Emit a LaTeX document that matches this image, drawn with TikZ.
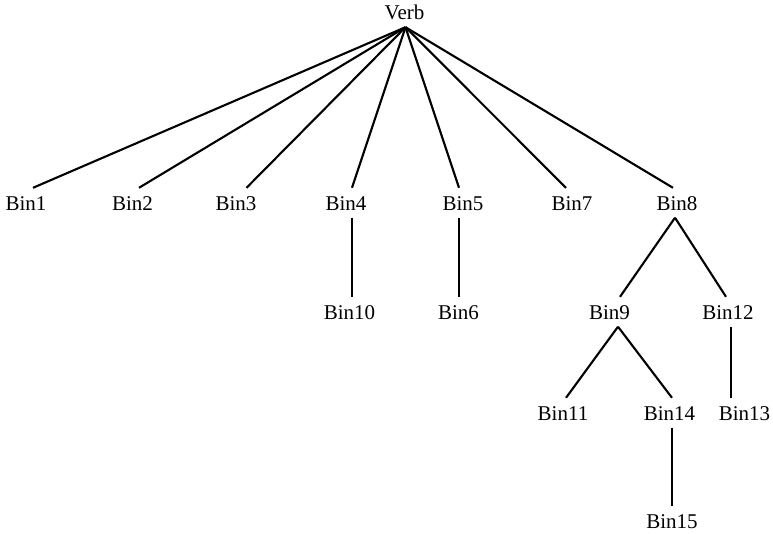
\documentclass[tikz,border=0pt]{standalone}
\usepackage{fontspec}
\setmainfont{Liberation Serif}
\begin{document}
\begin{tikzpicture}[x=1pt,y=-1pt,
  lbl/.style={anchor=base,inner xsep=0pt,inner ysep=7.5pt,text height=14.5pt,text depth=0pt,
              font=\fontsize{21}{25}\selectfont},
  edge/.style={line width=2.1pt,line cap=butt}]
\useasboundingbox (0,0) rectangle (773,533);

% labels, placed by text centre and baseline
\node[lbl] (verb) at (404.5,19.5) {Verb};
\node[lbl] (b1)  at (26,210)  {Bin1};
\node[lbl] (b2)  at (132.5,210) {Bin2};
\node[lbl] (b3)  at (236,210) {Bin3};
\node[lbl] (b4)  at (346,210) {Bin4};
\node[lbl] (b5)  at (463,210) {Bin5};
\node[lbl] (b7)  at (572,210) {Bin7};
\node[lbl] (b8)  at (677,210) {Bin8};
\node[lbl] (b10) at (349.5,319) {Bin10};
\node[lbl] (b6)  at (458.5,319) {Bin6};
\node[lbl] (b9)  at (609.5,319) {Bin9};
\node[lbl] (b12) at (728,319) {Bin12};
\node[lbl] (b11) at (563,420) {Bin11};
\node[lbl] (b14) at (669.5,420) {Bin14};
\node[lbl] (b13) at (744.5,420) {Bin13};
\node[lbl] (b15) at (672,528) {Bin15};

% branches from the root
\draw[edge] ([xshift=1pt]verb.south) -- ([xshift=7pt]b1.north);
\draw[edge] ([xshift=1pt]verb.south) -- ([xshift=6.5pt]b2.north);
\draw[edge] ([xshift=1pt]verb.south) -- ([xshift=10.5pt]b3.north);
\draw[edge] ([xshift=1pt]verb.south) -- ([xshift=6pt]b4.north);
\draw[edge] ([xshift=1pt]verb.south) -- ([xshift=-4pt]b5.north);
\draw[edge] ([xshift=1pt]verb.south) -- ([xshift=-6pt]b7.north);
\draw[edge] ([xshift=1pt]verb.south) -- ([xshift=-4pt]b8.north);

% lower branches
\draw[edge] ([xshift=6pt]b4.south) -- ([xshift=2.5pt]b10.north);
\draw[edge] ([xshift=-4pt]b5.south) -- ([xshift=0.5pt]b6.north);
\draw[edge] ([xshift=-2pt]b8.south) -- ([xshift=10.5pt]b9.north);
\draw[edge] ([xshift=-2pt]b8.south) -- ([xshift=-2pt]b12.north);
\draw[edge] ([xshift=8.5pt]b9.south) -- ([xshift=3pt]b11.north);
\draw[edge] ([xshift=8.5pt]b9.south) -- ([xshift=2.5pt]b14.north);
\draw[edge] ([xshift=3pt]b12.south) -- ([xshift=-13.5pt]b13.north);
\draw[edge] ([xshift=2.5pt]b14.south) -- (b15.north);
\end{tikzpicture}
\end{document}
